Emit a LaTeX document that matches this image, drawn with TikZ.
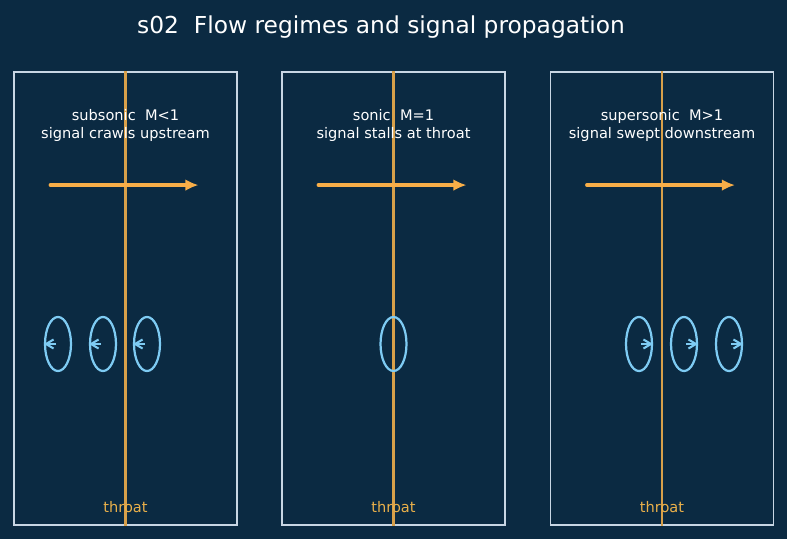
\documentclass[tikz,border=0pt]{standalone}
\usepackage{fontspec}
\setmainfont{DejaVu Sans}
\usepackage{xcolor}
\usetikzlibrary{
  arrows.meta,
  positioning,
  calc,
  shapes.geometric
}
\definecolor{bgnavy}{HTML}{0B2A42}
\definecolor{framegray}{HTML}{C8D6E4}
\definecolor{throatline}{HTML}{D8A04A}
\definecolor{throattext}{HTML}{EAB04A}
\definecolor{flowarrow}{HTML}{F8AE48}
\definecolor{wavecyan}{HTML}{7ECBF3}

\begin{document}
\begin{tikzpicture}[
    x=0.72pt, y=-0.72pt,
    every node/.style={font=\fontsize{10.5}{13}\selectfont, text=white},
    panel/.style={
      draw=framegray,
      line width=1.3pt,
      inner sep=0pt,
      minimum width=160.6pt,
      minimum height=326.2pt
    },
    caption/.style={align=center},
    throat/.style={draw=throatline, line width=1.9pt},
    throatlbl/.style={text=throattext, anchor=base},
    flow/.style={draw=flowarrow, line width=2.8pt, line cap=round,
      -{Latex[length=9.5pt, width=8.5pt]}},
    wave/.style={
      ellipse,
      draw=wavecyan,
      line width=1.6pt,
      inner sep=0pt,
      minimum width=18.7pt,
      minimum height=38.9pt
    },
    sig/.style={draw=wavecyan, line width=1.5pt,
      -{Straight Barb[length=5.5pt, width=6.5pt]}}
  ]

    % Background and page size
    \fill[bgnavy] (0,0) rectangle (787,539);
    \useasboundingbox (0,0) rectangle (787,539);

    \node[font=\fontsize{16.8}{20}\selectfont] (title) at (381,27)
      {s02\ \ Flow regimes and signal propagation};

    % Left panel: subsonic
    \node[panel] (sub) at (125.5,298.5) {};
    \draw[throat] (sub.north) -- (sub.south);
    \node[caption] (subtxt) at ($(sub.north)+(0,54)$)
      {subsonic\ \ M<1\\signal crawls upstream};
    \coordinate (subin) at ($(sub.north)+(-75,114)$);
    \coordinate (subout) at ($(sub.north)+(73,114)$);
    \draw[flow] (subin) -- (subout);
    \node[wave] (subw1) at ($(sub.center)+(-67.5,45.5)$) {};
    \node[wave] (subw2) at ($(sub.center)+(-22.5,45.5)$) {};
    \node[wave] (subw3) at ($(sub.center)+(21.5,45.5)$) {};
    \draw[sig] ($(subw1.center)+(-2,0)$) -- (subw1.west);
    \draw[sig] ($(subw2.center)+(-2,0)$) -- (subw2.west);
    \draw[sig] ($(subw3.center)+(-2,0)$) -- (subw3.west);
    \node[throatlbl] (sublbl) at ($(sub.south)+(0,-13)$) {throat};

    % Middle panel: sonic
    \node[panel] (son) at (393.5,298.5) {};
    \draw[throat] (son.north) -- (son.south);
    \node[caption] (sontxt) at ($(son.north)+(0,54)$)
      {sonic\ \ M=1\\signal stalls at throat};
    \coordinate (sonin) at ($(son.north)+(-75,114)$);
    \coordinate (sonout) at ($(son.north)+(73,114)$);
    \draw[flow] (sonin) -- (sonout);
    \node[wave] (sonw) at ($(son.center)+(0,45.5)$) {};
    \node[throatlbl] (sonlbl) at ($(son.south)+(0,-13)$) {throat};

    % Right panel: supersonic
    \node[panel] (sup) at (662,298.5) {};
    \draw[throat] (sup.north) -- (sup.south);
    \node[caption] (suptxt) at ($(sup.north)+(0,54)$)
      {supersonic\ \ M>1\\signal swept downstream};
    \coordinate (supin) at ($(sup.north)+(-75,114)$);
    \coordinate (supout) at ($(sup.north)+(73,114)$);
    \draw[flow] (supin) -- (supout);
    \node[wave] (supw1) at ($(sup.center)+(-23,45.5)$) {};
    \node[wave] (supw2) at ($(sup.center)+(22,45.5)$) {};
    \node[wave] (supw3) at ($(sup.center)+(67,45.5)$) {};
    \draw[sig] ($(supw1.center)+(2,0)$) -- (supw1.east);
    \draw[sig] ($(supw2.center)+(2,0)$) -- (supw2.east);
    \draw[sig] ($(supw3.center)+(2,0)$) -- (supw3.east);
    \node[throatlbl] (suplbl) at ($(sup.south)+(0,-13)$) {throat};

\end{tikzpicture}
\end{document}
